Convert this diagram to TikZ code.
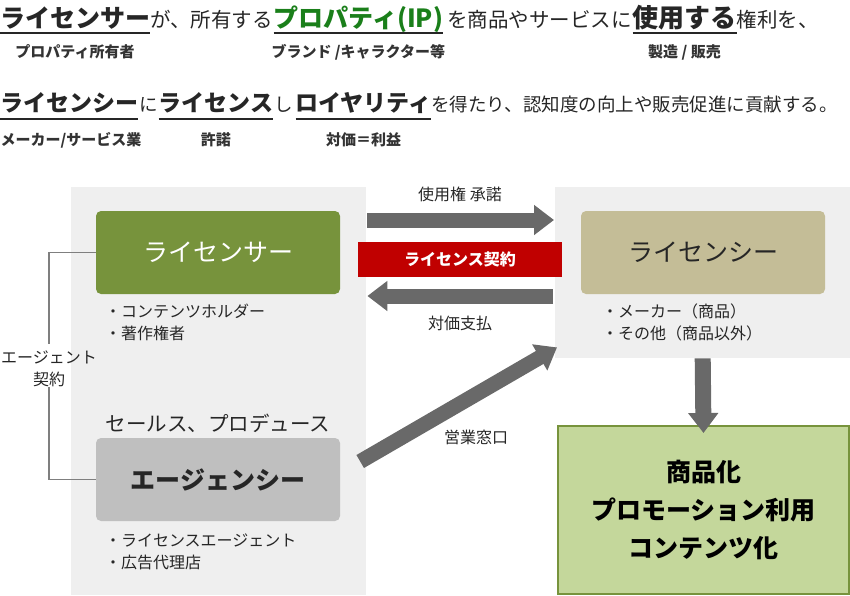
\documentclass[tikz,border=0pt]{standalone}
\usepackage{fontspec}
\setmainfont{Noto Sans CJK JP}
\usetikzlibrary{arrows.meta,positioning}

\definecolor{panelgray}{HTML}{EFEFEF}
\definecolor{licgreen}{HTML}{77933C}
\definecolor{lictan}{HTML}{C4BD97}
\definecolor{agygray}{HTML}{BFBFBF}
\definecolor{arrgray}{HTML}{696969}
\definecolor{linkgray}{HTML}{7F7F7F}
\definecolor{contred}{HTML}{C00000}
\definecolor{resgreen}{HTML}{C4D79B}
\definecolor{titlegreen}{HTML}{1A7F1A}
\definecolor{txt}{HTML}{262626}
\definecolor{notegray}{HTML}{333333}

\newcommand{\fs}[2]{\fontsize{#1}{#2}\selectfont}

\begin{document}
\begin{tikzpicture}[x=1pt,y=-1pt,thin]
\tikzstyle{word}=[inner sep=0pt,outer sep=0pt,text=txt]
\tikzstyle{head}=[word,font=\fs{25}{30}\bfseries]
\tikzstyle{plain}=[word,font=\fs{20.5}{24}]
\tikzstyle{head2}=[word,font=\fs{23}{28}\bfseries]
\tikzstyle{plain2}=[word,font=\fs{18.5}{24}]
\tikzstyle{note}=[word,font=\fs{15}{18}\bfseries,text=notegray]
\tikzstyle{uline}=[draw=txt,line width=1.3pt]
\tikzstyle{panel}=[fill=panelgray,draw=none,anchor=north west,inner sep=0pt]
\tikzstyle{role}=[rounded corners=5pt,minimum width=244pt,minimum height=83pt,inner sep=0pt,font=\fs{25}{30}]
\tikzstyle{item}=[word,font=\fs{16}{20},anchor=base west]
\tikzstyle{lbl}=[word,font=\fs{16}{20}]
\tikzstyle{fat}=[draw=arrgray,line width=15pt,-{Triangle[length=20pt,width=29pt]}]
\tikzstyle{link}=[draw=linkgray,line width=1.5pt]

\useasboundingbox (0,0) rectangle (850,595);

% first sentence
\node[head,anchor=base west] (t1) at (0,27) {ライセンサー};
\node[plain,base right=0pt of t1] (t2) {が、所有する};
\node[head,text=titlegreen,base right=1pt of t2] (t3) {プロパティ(IP)};
\node[plain,base right=4pt of t3] (t4) {を商品やサービスに};
\node[head,font=\fs{26}{30}\bfseries,base right=1pt of t4] (t5) {使用する};
\node[plain,base right=0pt of t5] (t6) {権利を、};
\draw[uline] ([yshift=-6pt]t1.base west) -- ([yshift=-6pt]t1.base east);
\draw[uline] ([yshift=-6pt]t3.base west) -- ([yshift=-6pt]t3.base east);
\draw[uline] ([yshift=-6pt]t5.base west) -- ([yshift=-6pt]t5.base east);

\node[note] (s1) at (t1 |- 0,52) {プロパティ所有者};
\node[note] (s3) at (t3 |- 0,52) {ブランド /キャラクター等};
\node[note] (s5) at (t5 |- 0,52) {製造 / 販売};

% second sentence
\node[head2,anchor=base west] (u1) at (0,111) {ライセンシー};
\node[plain2,base right=1pt of u1] (u2) {に};
\node[head2,base right=1pt of u2] (u3) {ライセンス};
\node[plain2,base right=1pt of u3] (u4) {し};
\node[head2,base right=3pt of u4] (u5) {ロイヤリティ};
\node[plain2,base right=0pt of u5] (u6) {を得たり、認知度の向上や販売促進に貢献する。};
\draw[uline] ([yshift=-8pt]u1.base west) -- ([yshift=-8pt]u1.base east);
\draw[uline] ([yshift=-8pt]u3.base west) -- ([yshift=-8pt]u3.base east);
\draw[uline] ([yshift=-8pt]u5.base west) -- ([yshift=-8pt]u5.base east);

\node[note] (s6) at (71,140) {メーカー/サービス業};
\node[note] (s7) at (u3 |- 0,140) {許諾};
\node[note] (s8) at (u5 |- 0,140) {対価＝利益};

% panels and roles
\node[panel,minimum width=295pt,minimum height=408pt] (lpanel) at (71,187) {};
\node[panel,minimum width=295pt,minimum height=171pt] (rpanel) at (555,187) {};

\node[role,fill=licgreen,text=white] (licensor) at (218,252.5) {ライセンサー};
\node[role,fill=lictan,text=txt] (licensee) at (703,252.5) {ライセンシー};
\node[role,fill=agygray,text=txt,font=\fs{25}{30}\bfseries] (agency) at (218,479.5) {エージェンシー};

\node[item] (lic1) at (105,317) {・コンテンツホルダー};
\node[item] (lic2) at (105,339) {・著作権者};
\node[item] (lee1) at (602,317) {・メーカー（商品）};
\node[item] (lee2) at (602,339) {・その他（商品以外）};
\node[item] (agy1) at (105,546) {・ライセンスエージェント};
\node[item] (agy2) at (105,568) {・広告代理店};
\node[word,font=\fs{20.5}{24}] (sales) at (218,423) {セールス、プロデュース};

\node[draw=licgreen,line width=2pt,fill=resgreen,minimum width=291pt,minimum height=168pt,
  anchor=north west,align=center,text=black,font=\fs{25}{38}\bfseries] (result) at (557,425)
  {商品化\\プロモーション利用\\コンテンツ化};

% contract band and labels
\node[fill=contred,text=white,minimum width=204pt,minimum height=35pt,inner sep=0pt,
  font=\fs{16}{20}\bfseries] (contract) at (460,259.5) {ライセンス契約};
\node[lbl] (grant) at (460,194) {使用権 承諾};
\node[lbl] (pay) at (460,323) {対価支払};
\node[lbl] (window) at (476,437) {営業窓口};
\node[lbl,align=center,font=\fs{16}{22}] (agt) at (49,369) {エージェント\\契約};

% arrows
\draw[fat] ([shift={(1,33)}]lpanel.north east) -- ([shift={(-1,33)}]rpanel.north west);
\draw[fat] ([shift={(-2,109)}]rpanel.north west) -- ([shift={(1,109)}]lpanel.north east);
\draw[fat] ([shift={(20,-18)}]agency.east) -- ([shift={(2,-11)}]rpanel.south west);
\draw[fat,line width=16pt] (rpanel.south) -- ([yshift=-8pt]result.north);

\draw[link] (licensor.west) -| ([yshift=7pt]agt.north);
\draw[link] (agt.south) |- (agency.west);

\end{tikzpicture}
\end{document}
